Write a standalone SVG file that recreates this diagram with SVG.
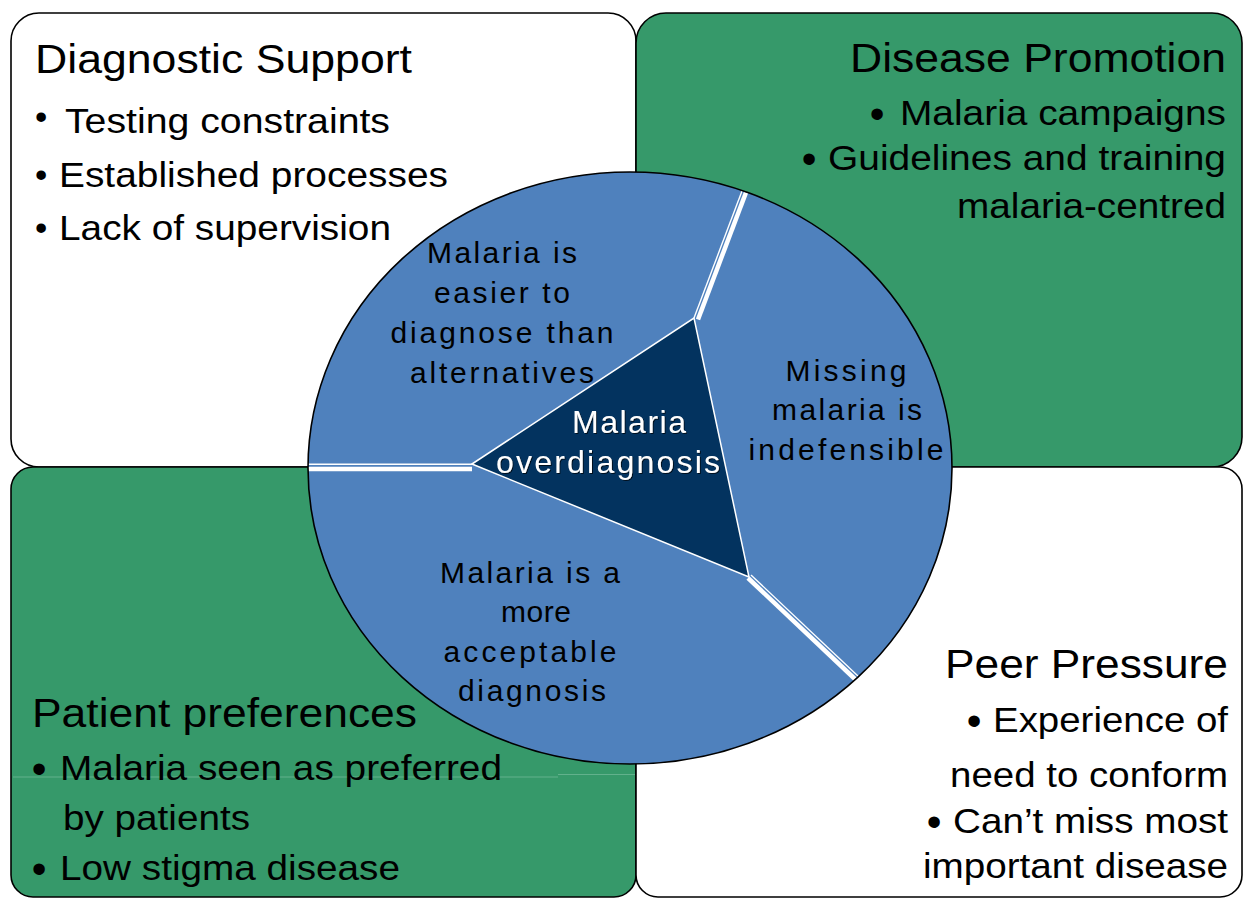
<svg xmlns="http://www.w3.org/2000/svg" width="1243" height="899" viewBox="0 0 1243 899">
<style>
text{font-family:"Liberation Sans",Arial,sans-serif;fill:#000}
.box{stroke:#000;stroke-width:1.6}
.white{fill:#fff}
.green{fill:#36996A}
.hd{font-size:40px}
.bl{font-size:35px}
.dot{font-size:42px;text-anchor:middle}
.el{font-size:30px;text-anchor:middle}
.ctr{font-size:32px;text-anchor:middle;fill:#fff;filter:url(#sh)}
.sepT{stroke:#fff;stroke-width:1.4;fill:none}
.sepK{stroke:#fff;stroke-width:4.5;fill:none}
</style>
<defs>
<filter id="sh" x="-10%" y="-30%" width="120%" height="160%">
<feDropShadow dx="1" dy="1" stdDeviation="0.6" flood-color="#000" flood-opacity="0.7"/>
</filter>
</defs>

<g id="diagnostic-support">
<rect class="box white" x="11" y="13" width="625" height="454" rx="28" ry="28"/>
<text class="hd" x="35" y="73" textLength="377" lengthAdjust="spacingAndGlyphs">Diagnostic Support</text>
<text class="bl" x="35" y="129">•</text>
<text class="bl" x="65" y="133" textLength="325" lengthAdjust="spacingAndGlyphs">Testing constraints</text>
<text class="bl" x="35" y="187">•</text>
<text class="bl" x="59" y="187" textLength="389" lengthAdjust="spacingAndGlyphs">Established processes</text>
<text class="bl" x="35" y="240">•</text>
<text class="bl" x="59" y="240" textLength="332" lengthAdjust="spacingAndGlyphs">Lack of supervision</text>
</g>

<g id="disease-promotion">
<rect class="box green" x="636" y="13" width="606" height="454" rx="30" ry="30"/>
<text class="hd" x="850" y="72" textLength="376" lengthAdjust="spacingAndGlyphs">Disease Promotion</text>
<text class="dot" x="877" y="128">•</text>
<text class="bl" x="900" y="125" textLength="326" lengthAdjust="spacingAndGlyphs">Malaria campaigns</text>
<text class="dot" x="809" y="173">•</text>
<text class="bl" x="828" y="170" textLength="398" lengthAdjust="spacingAndGlyphs">Guidelines and training</text>
<text class="bl" x="957" y="218" textLength="269" lengthAdjust="spacingAndGlyphs">malaria-centred</text>
</g>

<g id="patient-preferences">
<rect class="box green" x="11" y="467" width="625" height="430" rx="22" ry="22"/>
<path d="M13 777 H558 M558 774.5 H635" stroke="#62b18c" stroke-width="1" fill="none"/>
<text class="hd" x="32" y="727" textLength="385" lengthAdjust="spacingAndGlyphs">Patient preferences</text>
<text class="dot" x="39" y="783">•</text>
<text class="bl" x="60" y="780" textLength="442" lengthAdjust="spacingAndGlyphs">Malaria seen as preferred</text>
<text class="bl" x="63" y="830" textLength="187" lengthAdjust="spacingAndGlyphs">by patients</text>
<text class="dot" x="39" y="883">•</text>
<text class="bl" x="60" y="880" textLength="340" lengthAdjust="spacingAndGlyphs">Low stigma disease</text>
</g>

<g id="peer-pressure">
<rect class="box white" x="636" y="467" width="606" height="430" rx="22" ry="22"/>
<text class="hd" x="945" y="678" textLength="283" lengthAdjust="spacingAndGlyphs">Peer Pressure</text>
<text class="dot" x="974" y="735">•</text>
<text class="bl" x="993" y="732" textLength="235" lengthAdjust="spacingAndGlyphs">Experience of</text>
<text class="bl" x="950" y="787" textLength="278" lengthAdjust="spacingAndGlyphs">need to conform</text>
<text class="dot" x="934" y="836">•</text>
<text class="bl" x="953" y="833" textLength="275" lengthAdjust="spacingAndGlyphs">Can’t miss most</text>
<text class="bl" x="923" y="878" textLength="305" lengthAdjust="spacingAndGlyphs">important disease</text>
</g>

<g id="circle">
<ellipse cx="630" cy="468" rx="322" ry="296" fill="#4F81BD"/>
</g>

<g id="connectors">
<line class="sepT" x1="472" y1="464.3" x2="308" y2="464.3"/>
<line class="sepK" x1="472" y1="469" x2="308" y2="469"/>
<line class="sepT" x1="694" y1="318" x2="742" y2="191"/>
<line class="sepK" x1="698" y1="319.5" x2="746" y2="192.5"/>
<line class="sepT" x1="751" y1="575" x2="859" y2="677"/>
<line class="sepK" x1="748" y1="578" x2="856" y2="680"/>
</g>

<g id="circle-outline">
<ellipse cx="630" cy="468" rx="322" ry="296" fill="none" stroke="#000" stroke-width="1.6"/>
</g>

<g id="easier">
<text class="el" x="502" y="263" textLength="150">Malaria is</text>
<text class="el" x="502" y="303" textLength="136">easier to</text>
<text class="el" x="502" y="343" textLength="223">diagnose than</text>
<text class="el" x="502" y="383" textLength="184">alternatives</text>
</g>

<g id="missing">
<text class="el" x="846" y="381" textLength="121">Missing</text>
<text class="el" x="847" y="420" textLength="150">malaria is</text>
<text class="el" x="846" y="460" textLength="195">indefensible</text>
</g>

<g id="acceptable">
<text class="el" x="530" y="583" textLength="180">Malaria is a</text>
<text class="el" x="536" y="622" textLength="70">more</text>
<text class="el" x="530" y="662" textLength="173">acceptable</text>
<text class="el" x="532" y="701" textLength="148">diagnosis</text>
</g>

<g id="center">
<polygon points="472,464 694,318 749,577" fill="#03335F" stroke="#fff" stroke-width="1.5"/>
<text class="ctr" x="629" y="433" textLength="114">Malaria</text>
<text class="ctr" x="608" y="473" textLength="224">overdiagnosis</text>
</g>
</svg>
